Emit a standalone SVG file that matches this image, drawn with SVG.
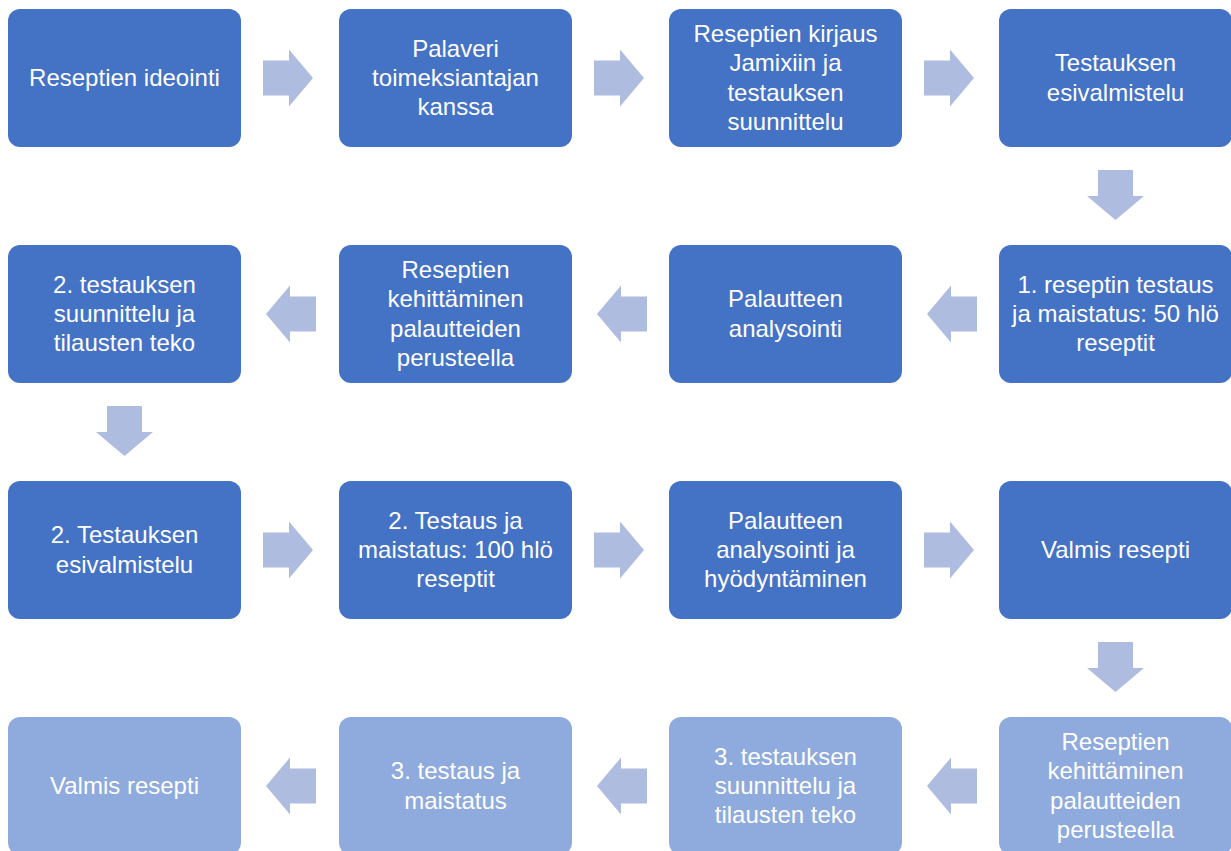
<svg xmlns="http://www.w3.org/2000/svg" xmlns:xlink="http://www.w3.org/1999/xlink" width="1231" height="851" viewBox="0 0 1231 851">
<style>
.box{fill:#4472C4}
.light{fill:#8FAADC}
.arr{fill:#AEBCDF}
text{font-family:"Liberation Sans",Arial,sans-serif;font-size:24px;fill:#FFFFFF;text-anchor:middle}
</style>
<defs>
<path id="ar" d="M0,-17.5H26V-28.5L50,0L26,28.5V17.5H0Z"/>
</defs>
<rect width="1231" height="851" fill="#FFFFFF"/>
<g id="connectors" class="arr">
<use xlink:href="#ar" href="#ar" transform="translate(263,78)"/>
<use xlink:href="#ar" href="#ar" transform="translate(594,78)"/>
<use xlink:href="#ar" href="#ar" transform="translate(924,78)"/>
<use xlink:href="#ar" href="#ar" transform="translate(1115.5,170) rotate(90)"/>
<use xlink:href="#ar" href="#ar" transform="translate(977,314) scale(-1,1)"/>
<use xlink:href="#ar" href="#ar" transform="translate(647,314) scale(-1,1)"/>
<use xlink:href="#ar" href="#ar" transform="translate(316,314) scale(-1,1)"/>
<use xlink:href="#ar" href="#ar" transform="translate(124.5,406) rotate(90)"/>
<use xlink:href="#ar" href="#ar" transform="translate(263,550)"/>
<use xlink:href="#ar" href="#ar" transform="translate(594,550)"/>
<use xlink:href="#ar" href="#ar" transform="translate(924,550)"/>
<use xlink:href="#ar" href="#ar" transform="translate(1115.5,642) rotate(90)"/>
<use xlink:href="#ar" href="#ar" transform="translate(977,786) scale(-1,1)"/>
<use xlink:href="#ar" href="#ar" transform="translate(647,786) scale(-1,1)"/>
<use xlink:href="#ar" href="#ar" transform="translate(316,786) scale(-1,1)"/>
</g>
<g id="n1"><rect class="box" x="8" y="9" width="233" height="138" rx="12"/>
<text x="124.5" y="86">Reseptien ideointi</text></g>
<g id="n2"><rect class="box" x="339" y="9" width="233" height="138" rx="12"/>
<text x="455.5" y="56.8">Palaveri<tspan x="455.5" dy="29.2">toimeksiantajan</tspan><tspan x="455.5" dy="29.2">kanssa</tspan></text></g>
<g id="n3"><rect class="box" x="669" y="9" width="233" height="138" rx="12"/>
<text x="785.5" y="42.2">Reseptien kirjaus<tspan x="785.5" dy="29.2">Jamixiin ja</tspan><tspan x="785.5" dy="29.2">testauksen</tspan><tspan x="785.5" dy="29.2">suunnittelu</tspan></text></g>
<g id="n4"><rect class="box" x="999" y="9" width="233" height="138" rx="12"/>
<text x="1115.5" y="71.4">Testauksen<tspan x="1115.5" dy="29.2">esivalmistelu</tspan></text></g>
<g id="n5"><rect class="box" x="999" y="245" width="233" height="138" rx="12"/>
<text x="1115.5" y="292.8">1. reseptin testaus<tspan x="1115.5" dy="29.2">ja maistatus: 50 hlö</tspan><tspan x="1115.5" dy="29.2">reseptit</tspan></text></g>
<g id="n6"><rect class="box" x="669" y="245" width="233" height="138" rx="12"/>
<text x="785.5" y="307.4">Palautteen<tspan x="785.5" dy="29.2">analysointi</tspan></text></g>
<g id="n7"><rect class="box" x="339" y="245" width="233" height="138" rx="12"/>
<text x="455.5" y="278.2">Reseptien<tspan x="455.5" dy="29.2">kehittäminen</tspan><tspan x="455.5" dy="29.2">palautteiden</tspan><tspan x="455.5" dy="29.2">perusteella</tspan></text></g>
<g id="n8"><rect class="box" x="8" y="245" width="233" height="138" rx="12"/>
<text x="124.5" y="292.8">2. testauksen<tspan x="124.5" dy="29.2">suunnittelu ja</tspan><tspan x="124.5" dy="29.2">tilausten teko</tspan></text></g>
<g id="n9"><rect class="box" x="8" y="481" width="233" height="138" rx="12"/>
<text x="124.5" y="543.4">2. Testauksen<tspan x="124.5" dy="29.2">esivalmistelu</tspan></text></g>
<g id="n10"><rect class="box" x="339" y="481" width="233" height="138" rx="12"/>
<text x="455.5" y="528.8">2. Testaus ja<tspan x="455.5" dy="29.2">maistatus: 100 hlö</tspan><tspan x="455.5" dy="29.2">reseptit</tspan></text></g>
<g id="n11"><rect class="box" x="669" y="481" width="233" height="138" rx="12"/>
<text x="785.5" y="528.8">Palautteen<tspan x="785.5" dy="29.2">analysointi ja</tspan><tspan x="785.5" dy="29.2">hyödyntäminen</tspan></text></g>
<g id="n12"><rect class="box" x="999" y="481" width="233" height="138" rx="12"/>
<text x="1115.5" y="558">Valmis resepti</text></g>
<g id="n13"><rect class="light" x="999" y="717" width="233" height="138" rx="12"/>
<text x="1115.5" y="750.2">Reseptien<tspan x="1115.5" dy="29.2">kehittäminen</tspan><tspan x="1115.5" dy="29.2">palautteiden</tspan><tspan x="1115.5" dy="29.2">perusteella</tspan></text></g>
<g id="n14"><rect class="light" x="669" y="717" width="233" height="138" rx="12"/>
<text x="785.5" y="764.8">3. testauksen<tspan x="785.5" dy="29.2">suunnittelu ja</tspan><tspan x="785.5" dy="29.2">tilausten teko</tspan></text></g>
<g id="n15"><rect class="light" x="339" y="717" width="233" height="138" rx="12"/>
<text x="455.5" y="779.4">3. testaus ja<tspan x="455.5" dy="29.2">maistatus</tspan></text></g>
<g id="n16"><rect class="light" x="8" y="717" width="233" height="138" rx="12"/>
<text x="124.5" y="794">Valmis resepti</text></g>
</svg>
